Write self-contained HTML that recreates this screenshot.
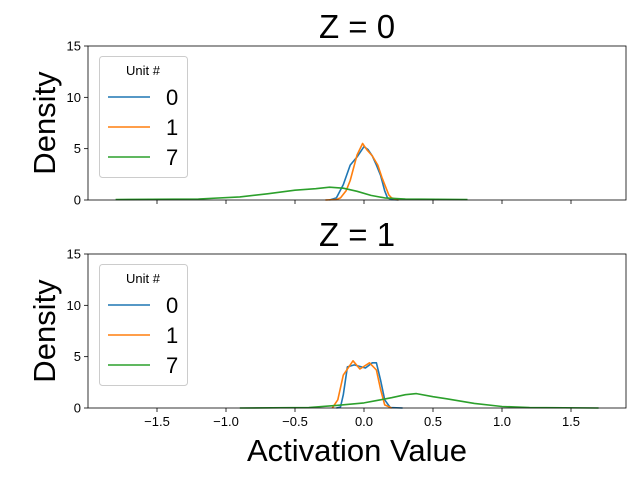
<!DOCTYPE html>
<html><head><meta charset="utf-8"><style>
body{margin:0;background:#fff}
svg{font-family:"Liberation Sans","DejaVu Sans",sans-serif}
</style></head><body>
<svg id="c" width="640" height="480" viewBox="0 0 640 480"></svg>
<script>
const xTicks=[-1.5,-1.0,-0.5,0.0,0.5,1.0,1.5];
const xTickLabels=["\u22121.5","\u22121.0","\u22120.5","0.0","0.5","1.0","1.5"];
const yTicks=[0,5,10,15];
const units=["0","1","7"];
const colors=["#1f77b4","#ff7f0e","#2ca02c"];
const z0x_u0=[-0.25,-0.2,-0.15,-0.1,-0.05,0.0,0.03,0.06,0.09,0.12,0.15,0.17,0.2,0.25];
const z0y_u0=[0,0.2,1.5,3.4,4.2,5.2,4.9,4.3,3.4,2.4,0.9,0.2,0.05,0];
const z0x_u1=[-0.28,-0.2,-0.17,-0.13,-0.1,-0.05,-0.01,0.02,0.06,0.1,0.13,0.15,0.18,0.2,0.25];
const z0y_u1=[0,0.05,0.2,0.9,1.9,4.4,5.5,4.9,4.3,3.4,2.2,1.5,0.5,0.2,0];
const z0x_u7=[-1.8,-1.2,-0.9,-0.7,-0.5,-0.35,-0.25,-0.15,-0.05,0.05,0.15,0.3,0.75];
const z0y_u7=[0.05,0.1,0.3,0.6,0.95,1.1,1.25,1.15,0.85,0.45,0.2,0.1,0.05];
const z1x_u0=[-0.2,-0.17,-0.15,-0.12,-0.07,0.01,0.06,0.09,0.12,0.15,0.19,0.28];
const z1y_u0=[0,0.1,1.3,4.0,4.2,3.9,4.4,4.4,2.7,0.8,0.05,0];
const z1x_u1=[-0.23,-0.19,-0.15,-0.08,-0.03,0.04,0.09,0.12,0.15,0.2];
const z1y_u1=[0,0.8,3.2,4.6,3.8,4.4,3.7,1.8,0.3,0];
const z1x_u7=[-0.9,-0.4,-0.2,0.0,0.1,0.2,0.3,0.38,0.5,0.6,0.8,1.0,1.2,1.7];
const z1y_u7=[0,0.05,0.25,0.5,0.75,1.0,1.3,1.4,1.1,0.9,0.45,0.15,0.05,0];
const panels=[
 {title:"Z = 0",top:46,xs:[z0x_u0,z0x_u1,z0x_u7],ys:[z0y_u0,z0y_u1,z0y_u7],labels:false},
 {title:"Z = 1",top:254,xs:[z1x_u0,z1x_u1,z1x_u7],ys:[z1y_u0,z1y_u1,z1y_u7],labels:true}];
const NS="http://www.w3.org/2000/svg";
const svg=document.getElementById("c");
function mk(t,a,p){const e=document.createElementNS(NS,t);for(const k in a)e.setAttribute(k,a[k]);(p||svg).appendChild(e);return e;}
const L=88,R=626,H=154;
const sx=v=>364+v*138;
panels.forEach((p,pi)=>{
 const g=mk("g",{});
 
 
 const sy=v=>p.top+H-v*(H/15);
 const t=mk("text",{x:357,y:p.top-8,"text-anchor":"middle","font-size":33},g);t.textContent=p.title;
 
 
 const yl=mk("text",{transform:`translate(55,${p.top+H/2}) rotate(-90)`,"text-anchor":"middle","font-size":31},g);yl.textContent="Density";
 
 
 yTicks.forEach(v=>{mk("line",{x1:L-4,x2:L,y1:sy(v),y2:sy(v),stroke:"#000","stroke-width":0.8},g);
  const tt=mk("text",{x:L-7,y:sy(v)+4.5,"text-anchor":"end","font-size":13},g);tt.textContent=v;
  
  });
 xTicks.forEach((v,i)=>{mk("line",{x1:sx(v),x2:sx(v),y1:p.top+H,y2:p.top+H+4,stroke:"#000","stroke-width":0.8},g);
  if(p.labels){const tt=mk("text",{x:sx(v),y:p.top+H+18,"text-anchor":"middle","font-size":13},g);tt.textContent=xTickLabels[i];
  
  }});
 p.xs.forEach((xa,si)=>{const d=xa.map((x,i)=>(i?"L":"M")+sx(x).toFixed(1)+","+sy(p.ys[si][i]).toFixed(1)).join("");
  const pa=mk("path",{d:d,fill:"none",stroke:colors[si],"stroke-width":1.6,"stroke-linejoin":"round"},g);
  
  });
 mk("rect",{x:L,y:p.top,width:R-L,height:H,fill:"none",stroke:"#000","stroke-width":0.8},g);
 const lg=mk("g",{},g);
 
 
 mk("rect",{x:99.5,y:p.top+10.5,width:88,height:121,rx:3,fill:"#fff","fill-opacity":0.8,stroke:"#ccc"},lg);
 const lt=mk("text",{x:143,y:p.top+29,"text-anchor":"middle","font-size":13},lg);lt.textContent="Unit #";
 units.forEach((u,i)=>{const y=p.top+51+i*30;
  mk("line",{x1:108,x2:150,y1:y,y2:y,stroke:colors[i],"stroke-width":1.6},lg);
  const et=mk("text",{x:166,y:y+8,"font-size":22},lg);et.textContent=u;
  
  });
});
const xl=mk("text",{x:357,y:461,"text-anchor":"middle","font-size":31});xl.textContent="Activation Value";


</script>
</body></html>
